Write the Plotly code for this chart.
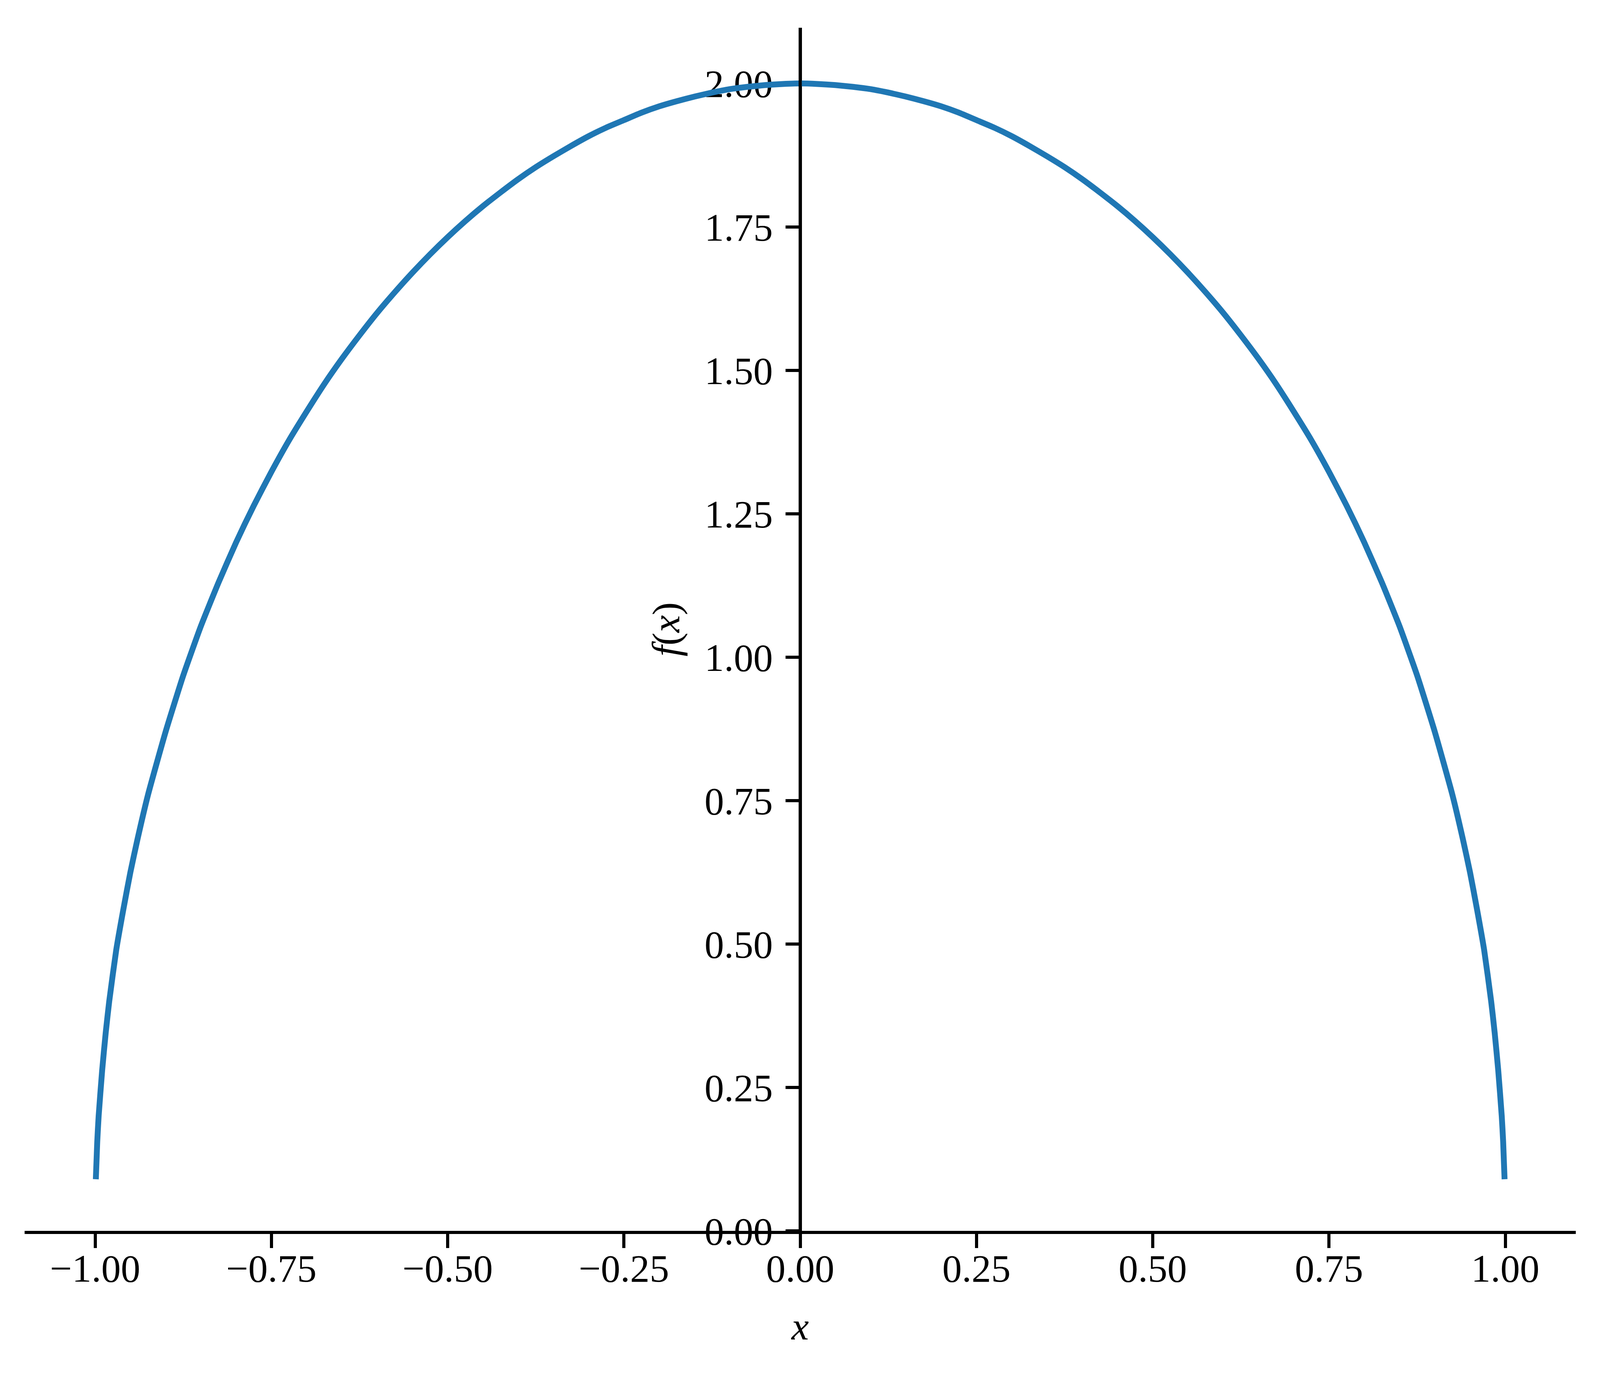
import plotly.graph_objects as go

# Curve values (left half, then right half)
x_left = [-0.999, -0.997, -0.995, -0.99, -0.985, -0.98, -0.97, -0.96, -0.95, -0.94,
          -0.925, -0.9, -0.875, -0.85, -0.825, -0.8, -0.775, -0.75, -0.725, -0.7,
          -0.675, -0.65, -0.625, -0.6, -0.575, -0.55, -0.525, -0.5, -0.475, -0.45,
          -0.425, -0.4, -0.375, -0.35, -0.325, -0.3, -0.275, -0.25, -0.225, -0.2,
          -0.175, -0.15, -0.125, -0.1, -0.075, -0.05, -0.025, 0.0]
y_left = [0.09, 0.155, 0.20, 0.28, 0.345, 0.40, 0.49, 0.56, 0.625, 0.682,
          0.76, 0.87, 0.968, 1.054, 1.13, 1.20, 1.264, 1.323, 1.378, 1.428,
          1.476, 1.52, 1.561, 1.60, 1.636, 1.67, 1.702, 1.732, 1.76, 1.786,
          1.81, 1.833, 1.854, 1.873, 1.891, 1.908, 1.923, 1.936, 1.949, 1.96,
          1.969, 1.977, 1.984, 1.99, 1.994, 1.997, 1.999, 2.0]
x_right = [0.025, 0.05, 0.075, 0.1, 0.125, 0.15, 0.175, 0.2, 0.225, 0.25,
           0.275, 0.3, 0.325, 0.35, 0.375, 0.4, 0.425, 0.45, 0.475, 0.5,
           0.525, 0.55, 0.575, 0.6, 0.625, 0.65, 0.675, 0.7, 0.725, 0.75,
           0.775, 0.8, 0.825, 0.85, 0.875, 0.9, 0.925, 0.94, 0.95, 0.96,
           0.97, 0.98, 0.985, 0.99, 0.995, 0.997, 0.999]
y_right = [1.999, 1.997, 1.994, 1.99, 1.984, 1.977, 1.969, 1.96, 1.949, 1.936,
           1.923, 1.908, 1.891, 1.873, 1.854, 1.833, 1.81, 1.786, 1.76, 1.732,
           1.702, 1.67, 1.636, 1.60, 1.561, 1.52, 1.476, 1.428, 1.378, 1.323,
           1.264, 1.20, 1.13, 1.054, 0.968, 0.87, 0.76, 0.682, 0.625, 0.56,
           0.49, 0.40, 0.345, 0.28, 0.20, 0.155, 0.09]

x_ticks = [-1.0, -0.75, -0.5, -0.25, 0.0, 0.25, 0.5, 0.75, 1.0]
x_tick_labels = ["\u22121.00", "\u22120.75", "\u22120.50", "\u22120.25", "0.00",
                 "0.25", "0.50", "0.75", "1.00"]
y_ticks = [0.0, 0.25, 0.5, 0.75, 1.0, 1.25, 1.5, 1.75, 2.0]
y_tick_labels = ["0.00", "0.25", "0.50", "0.75", "1.00", "1.25", "1.50", "1.75", "2.00"]

FONT = "Liberation Serif"
FS = 100
W, H = 4096, 3524  # the browser viewport is 4096 wide

fig = go.Figure()
fig.add_trace(go.Scatter(x=x_left + x_right, y=y_left + y_right, mode="lines",
                         line=dict(color="#1f77b4", width=15, shape="spline", smoothing=0.5),
                         hoverinfo="skip"))

fig.update_layout(
    width=W, height=H,
    margin=dict(l=63, r=62, t=71, b=374),
    plot_bgcolor="white", paper_bgcolor="white",
    showlegend=False,
    font=dict(family=FONT, size=FS, color="black"),
)
fig.update_xaxes(
    range=[-1.1, 1.1], tickvals=x_ticks, ticktext=x_tick_labels,
    showline=True, linecolor="black", linewidth=8,
    ticks="outside", ticklen=36, tickwidth=8, tickcolor="black",
    showgrid=False, zeroline=False,
    ticklabelstandoff=-34,
    tickfont=dict(family=FONT, size=FS, color="black"),
    title=dict(text="<i>x</i>", font=dict(family=FONT, size=FS, color="black"), standoff=60),
)
fig.update_yaxes(
    range=[0, 2.097], tickvals=y_ticks, ticktext=y_tick_labels,
    anchor="free", position=0.5, side="left",
    showline=True, linecolor="black", linewidth=8,
    ticks="outside", ticklen=34, tickwidth=8, tickcolor="black",
    showgrid=False, zeroline=False, layer="below traces",
    ticklabelstandoff=12,
    tickfont=dict(family=FONT, size=FS, color="black"),
    title=dict(text="<i>f</i>(<i>x</i>)", font=dict(family=FONT, size=FS, color="black"), standoff=30),
)
# spine drawn on top of the curve, like the reference
fig.add_shape(type="line", xref="x", yref="paper", x0=0, x1=0, y0=0, y1=1,
              line=dict(color="black", width=8), layer="above")

fig.write_html("out.html", config={"displayModeBar": False},
               post_script="document.body.style.margin='0';document.body.style.overflow='hidden';")
